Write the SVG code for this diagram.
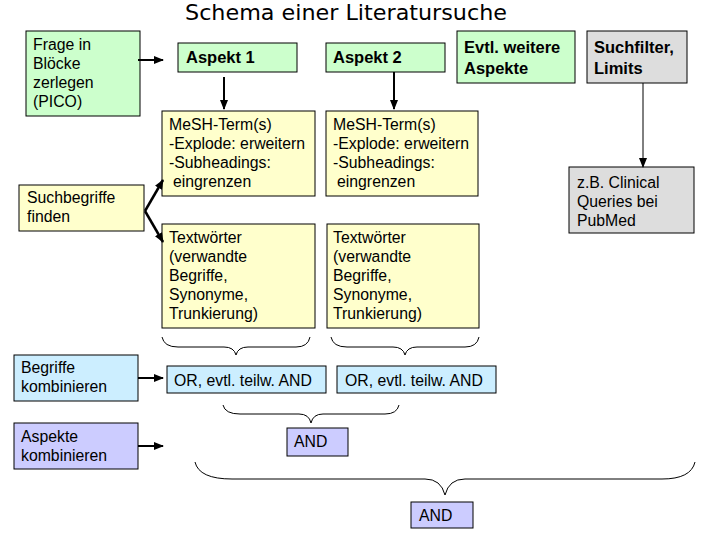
<svg xmlns="http://www.w3.org/2000/svg" width="720" height="540" viewBox="0 0 720 540">
<defs>
<marker id="ah" markerUnits="userSpaceOnUse" markerWidth="10" markerHeight="10" viewBox="0 0 10 10" refX="9" refY="5" orient="auto">
<path d="M0,1 L10,5 L0,9 Z" fill="#000"/>
</marker>
<style>
.box{stroke:#000;stroke-width:1}
.g{fill:#ccffcc}.y{fill:#ffffcc}.gr{fill:#dddddd}.b{fill:#cceeff}.v{fill:#ccccff}
text{font-family:"Liberation Sans",Arial,sans-serif;font-size:15.8px;fill:#000}
.bd{font-weight:bold;font-size:16.5px}
.title{font-family:"DejaVu Sans","Liberation Sans",sans-serif;font-size:22px}
.ar{stroke:#000;stroke-width:2;fill:none;marker-end:url(#ah)}
.br{stroke:#000;stroke-width:1;fill:none}
</style>
</defs>
<rect width="720" height="540" fill="#fff"/>
<text class="title" x="185" y="20" textLength="322" lengthAdjust="spacingAndGlyphs">Schema einer Literatursuche</text>

<g id="frage"><rect class="box g" x="26" y="31" width="114" height="85"/>
<text x="33" y="50">Frage in</text><text x="33" y="69">Blöcke</text><text x="33" y="88">zerlegen</text><text x="33" y="107">(PICO)</text></g>

<g id="aspekt1"><rect class="box g" x="178" y="43" width="119" height="29"/><text class="bd" x="186" y="63">Aspekt 1</text></g>
<g id="aspekt2"><rect class="box g" x="326" y="43" width="119" height="29"/><text class="bd" x="333" y="63">Aspekt 2</text></g>
<g id="weitere"><rect class="box g" x="457" y="31" width="118" height="52"/><text class="bd" x="464" y="53">Evtl. weitere</text><text class="bd" x="464" y="74">Aspekte</text></g>
<g id="suchfilter"><rect class="box gr" x="587" y="31" width="100" height="52"/><text class="bd" x="594" y="53">Suchfilter,</text><text class="bd" x="594" y="74">Limits</text></g>

<g id="mesh1"><rect class="box y" x="162" y="111" width="153" height="85"/>
<text x="169" y="130">MeSH-Term(s)</text><text x="169" y="149">-Explode: erweitern</text><text x="169" y="168">-Subheadings:</text><text x="173" y="187">eingrenzen</text></g>
<g id="mesh2"><rect class="box y" x="326" y="111" width="152" height="85"/>
<text x="333" y="130">MeSH-Term(s)</text><text x="333" y="149">-Explode: erweitern</text><text x="333" y="168">-Subheadings:</text><text x="337" y="187">eingrenzen</text></g>

<g id="clinical"><rect class="box gr" x="569" y="167" width="125" height="66"/>
<text x="577" y="188">z.B. Clinical</text><text x="577" y="207">Queries bei</text><text x="577" y="226">PubMed</text></g>

<g id="suchbegriffe"><rect class="box y" x="19" y="185" width="125" height="46"/>
<text x="27" y="203">Suchbegriffe</text><text x="27" y="222">finden</text></g>

<g id="text1"><rect class="box y" x="162" y="224" width="153" height="104"/>
<text x="169" y="243">Textwörter</text><text x="169" y="262">(verwandte</text><text x="169" y="281">Begriffe,</text><text x="169" y="300">Synonyme,</text><text x="169" y="319">Trunkierung)</text></g>
<g id="text2"><rect class="box y" x="327" y="224" width="152" height="104"/>
<text x="333" y="243">Textwörter</text><text x="333" y="262">(verwandte</text><text x="333" y="281">Begriffe,</text><text x="333" y="300">Synonyme,</text><text x="333" y="319">Trunkierung)</text></g>

<g id="begriffe"><rect class="box b" x="14" y="355" width="124" height="46"/>
<text x="21" y="373">Begriffe</text><text x="21" y="392">kombinieren</text></g>
<g id="or1"><rect class="box b" x="167" y="366" width="159" height="27"/><text x="174" y="386">OR, evtl. teilw. AND</text></g>
<g id="or2"><rect class="box b" x="337" y="366" width="159" height="27"/><text x="345" y="386">OR, evtl. teilw. AND</text></g>

<g id="aspekte"><rect class="box v" x="14" y="423" width="124" height="46"/>
<text x="21" y="442">Aspekte</text><text x="21" y="461">kombinieren</text></g>
<g id="and1"><rect class="box v" x="287" y="428" width="61" height="28"/><text x="294" y="447">AND</text></g>
<g id="and2"><rect class="box v" x="411" y="502" width="62" height="26"/><text x="419" y="521">AND</text></g>

<g id="connectors">
<line class="ar" x1="138" y1="60" x2="163" y2="60"/>
<line class="ar" x1="224" y1="77" x2="224" y2="109"/>
<line class="ar" x1="394" y1="72" x2="394" y2="109"/>
<line class="ar" x1="643" y1="83" x2="643" y2="167" style="stroke-width:1"/>
<line class="ar" x1="145" y1="211" x2="163" y2="180" style="stroke-width:2.5"/>
<line class="ar" x1="145" y1="211" x2="163" y2="242" style="stroke-width:2.5"/>
<line class="ar" x1="138" y1="378" x2="163" y2="378"/>
<line class="ar" x1="138" y1="446" x2="163" y2="446"/>
<path class="br" d="M162,337 Q164,347 178,347 L224,347 Q234,347 236,355 Q238,347 248,347 L296,347 Q308,347 310,337"/>
<path class="br" d="M331,337 Q333,347 347,347 L393,347 Q403,347 405,355 Q407,347 417,347 L465,347 Q477,347 479,337"/>
<path class="br" d="M223,405 Q225,414 240,414 L299,414 Q309,414 311,423 Q313,414 323,414 L385,414 Q397,414 399,405"/>
<path class="br" d="M195,462 Q199,479 232,479 L425,479 Q441,479 445,495 Q449,479 465,479 L662,479 Q691,479 695,462"/>
</g>
</svg>
